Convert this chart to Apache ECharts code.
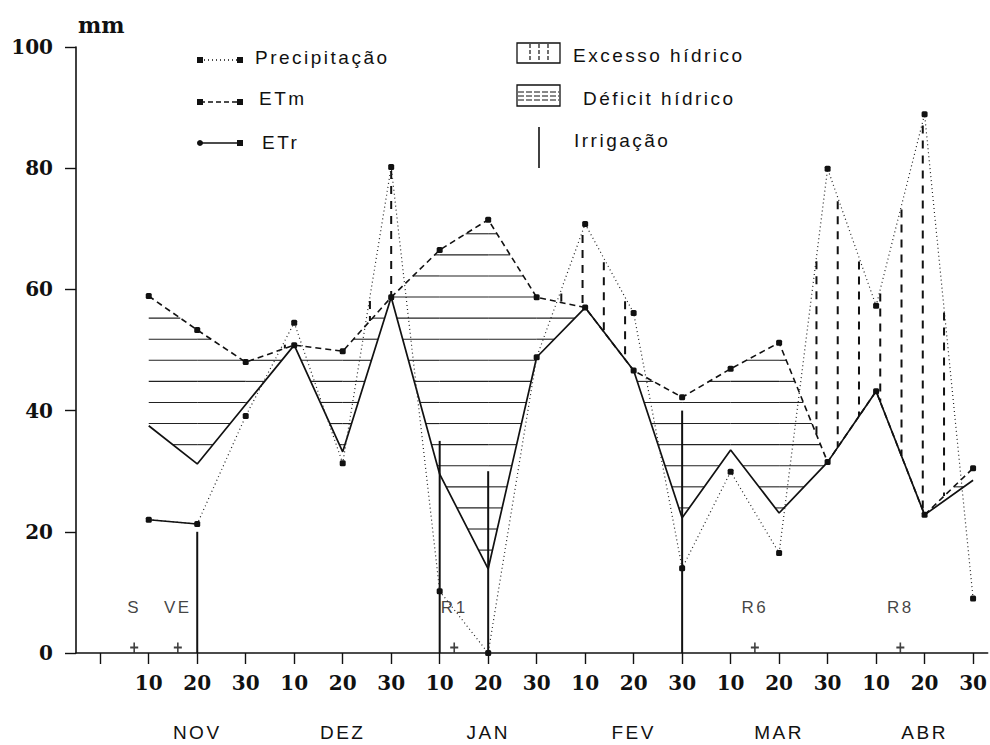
<!DOCTYPE html>
<html>
<head>
<meta charset="utf-8">
<script src="https://cdn.jsdelivr.net/npm/echarts@6/dist/echarts.min.js"></script>
<style>
  html, body { margin: 0; padding: 0; background: #fff; }
  #chart { width: 990px; height: 745px; }
  /* wide tracking for the sans-serif captions */
  #chart text[style*="Liberation Sans"] { letter-spacing: 2.5px; }
</style>
</head>
<body>
<div id="chart"></div>
<script>
// Decêndios: 0 = 30/out, 1..18 = 10/nov .. 30/abr
const decadeTicks = [0, 1, 2, 3, 4, 5, 6, 7, 8, 9, 10, 11, 12, 13, 14, 15, 16, 17, 18];
const decadeLabels = ['', '10', '20', '30', '10', '20', '30', '10', '20', '30',
                      '10', '20', '30', '10', '20', '30', '10', '20', '30'];
const months = ['NOV', 'DEZ', 'JAN', 'FEV', 'MAR', 'ABR'];
const monthPos = [2, 5, 8, 11, 14, 17];
const yTicks = [0, 20, 40, 60, 80, 100];

const days = [1, 2, 3, 4, 5, 6, 7, 8, 9, 10, 11, 12, 13, 14, 15, 16, 17, 18];
const precipitacao = [22.0, 21.3, 39.1, 54.5, 31.3, 80.2, 10.2, 0.0, 48.8, 70.8, 56.1, 14.0, 29.9, 16.5, 79.9, 57.3, 88.9, 9.0];
const etm = [58.9, 53.3, 48.0, 50.8, 49.8, 58.7, 66.5, 71.5, 58.7, 57.0, 46.6, 42.2, 46.9, 51.2, 31.5, 43.2, 22.8, 30.5];
const etr = [37.5, 31.2, 41.0, 50.8, 33.2, 58.7, 29.5, 13.9, 48.8, 57.0, 46.6, 22.3, 33.5, 23.1, 31.5, 43.2, 22.8, 28.5];

const irrigacaoPos = [2, 7, 8, 12];
const irrigacao = [20, 35, 30, 40];

const estadios = ['S', 'VE', 'R1', 'R6', 'R8'];
const estadiosPos = [0.7, 1.6, 7.3, 13.5, 16.5];

// hatching layout (mm levels for déficit, decêndio steps for excesso)
const HATCH_Y0 = 3.06, HATCH_DY = 3.48;
const EXC_X0 = 6, EXC_DX = 0.4385;

const ink = '#111';
const serif = 'DejaVu Serif';
const sans = 'Liberation Sans';

const pts = arr => days.map((d, i) => [d, arr[i]]);

function valueAt(arr, k) {
  const i = Math.max(0, Math.min(Math.floor(k - days[0]), arr.length - 2));
  const t = (k - days[0]) - i;
  return arr[i] + (arr[i + 1] - arr[i]) * t;
}

// horizontal hatch pieces where ETm lies above ETr
function deficitPieces() {
  const out = [];
  for (let m = 0; m < 30; m++) {
    const v = HATCH_Y0 + HATCH_DY * m;
    for (let i = 0; i < days.length - 1; i++) {
      let lo = 0, hi = 1;
      [[etm[i], etm[i + 1], 1], [etr[i], etr[i + 1], -1]].forEach(([a, b, s]) => {
        const c0 = s * (a - v), c1 = s * (b - a);
        if (Math.abs(c1) < 1e-9) { if (c0 < 0) { lo = 1; hi = 0; } }
        else {
          const t0 = -c0 / c1;
          if (c1 > 0) lo = Math.max(lo, t0); else hi = Math.min(hi, t0);
        }
      });
      if (hi - lo > 1e-6) out.push([days[i] + lo, days[i] + hi, v]);
    }
  }
  return out;
}

// vertical hatch pieces where precipitation exceeds ETm
function excessPieces() {
  const out = [];
  for (let n = -30; n < 40; n++) {
    const k = EXC_X0 + EXC_DX * n;
    if (k < days[0] || k > days[days.length - 1]) continue;
    const p = valueAt(precipitacao, k), e = valueAt(etm, k);
    if (p > e) out.push([k, p, e]);
  }
  return out;
}

const chart = echarts.init(document.getElementById('chart'), null, { renderer: 'svg' });

const legendItems = [];
function legendLine(y, dash, leftSymbol) {
  legendItems.push({ type: 'line', shape: { x1: 200, y1: y, x2: 240, y2: y },
    style: { stroke: ink, lineWidth: 1.4, lineDash: dash } });
  if (leftSymbol === 'circle') {
    legendItems.push({ type: 'circle', shape: { cx: 200, cy: y, r: 3 }, style: { fill: ink } });
  } else {
    legendItems.push({ type: 'rect', shape: { x: 197, y: y - 3, width: 6, height: 6 }, style: { fill: ink } });
  }
  legendItems.push({ type: 'rect', shape: { x: 237, y: y - 3, width: 6, height: 6 }, style: { fill: ink } });
}
function legendText(x, y, text) {
  legendItems.push({ type: 'text', x: x, y: y,
    style: { text: text, fontFamily: sans, fontSize: 19, fill: ink, verticalAlign: 'middle', align: 'left' } });
}
legendLine(60, [1, 3], 'rect');
legendText(255, 57, 'Precipitação');
legendLine(102, [5, 3], 'rect');
legendText(259, 98, 'ETm');
legendLine(143, null, 'circle');
legendText(262, 142, 'ETr');

// Excesso hídrico swatch
legendItems.push({ type: 'rect', shape: { x: 517, y: 43, width: 43, height: 20 },
  style: { fill: 'none', stroke: ink, lineWidth: 1.3 } });
[530, 539, 548].forEach(x => legendItems.push({ type: 'line', shape: { x1: x, y1: 44, x2: x, y2: 62 },
  style: { stroke: ink, lineWidth: 1.2, lineDash: [4, 2] } }));
legendText(573, 55, 'Excesso hídrico');
// Déficit hídrico swatch
legendItems.push({ type: 'rect', shape: { x: 517, y: 85, width: 43, height: 21 },
  style: { fill: 'none', stroke: ink, lineWidth: 1.3 } });
[92, 96, 100].forEach(y => legendItems.push({ type: 'line', shape: { x1: 518, y1: y, x2: 559, y2: y },
  style: { stroke: ink, lineWidth: 1, lineDash: [6, 2] } }));
legendText(583, 98, 'Déficit hídrico');
// Irrigação
legendItems.push({ type: 'line', shape: { x1: 539, y1: 127, x2: 539, y2: 168 },
  style: { stroke: ink, lineWidth: 1.6 } });
legendText(574, 140, 'Irrigação');

const option = {
  backgroundColor: '#fff',
  animation: false,
  grid: { left: 76, right: 0, top: 47, bottom: 92, containLabel: false },
  xAxis: [
    {
      type: 'value', min: -0.5, max: 18.3,
      axisLine: { show: true, onZero: false, lineStyle: { color: ink, width: 1.6 } },
      axisTick: { show: true, inside: false, length: 11, customValues: decadeTicks,
                  lineStyle: { color: ink, width: 1.4 } },
      axisLabel: { show: true, customValues: decadeTicks.slice(1), margin: 20,
                   formatter: v => decadeLabels[Math.round(v)],
                   fontFamily: serif, fontWeight: 'bold', fontSize: 20, color: ink },
      splitLine: { show: false }
    },
    {
      type: 'value', min: -0.5, max: 18.3, position: 'bottom',
      axisLine: { show: false, onZero: false }, axisTick: { show: false },
      axisLabel: { show: true, customValues: monthPos, margin: 70,
                   formatter: v => months[monthPos.indexOf(Math.round(v))],
                   fontFamily: sans, fontSize: 19, color: ink },
      splitLine: { show: false }
    }
  ],
  yAxis: {
    type: 'value', min: 0, max: 100, interval: 20,
    name: 'mm', nameLocation: 'end', nameGap: 11,
    nameTextStyle: { fontFamily: serif, fontWeight: 'bold', fontSize: 22, color: ink,
                     align: 'left', verticalAlign: 'bottom', padding: [0, 0, 0, 2] },
    axisLine: { show: true, onZero: false, lineStyle: { color: ink, width: 1.6 } },
    axisTick: { show: true, inside: false, length: 11, lineStyle: { color: ink, width: 1.4 } },
    axisLabel: { margin: 23, fontFamily: serif, fontWeight: 'bold', fontSize: 20, color: ink,
                 formatter: v => (yTicks.indexOf(v) >= 0 ? String(v) : '') },
    splitLine: { show: false }
  },
  graphic: legendItems,
  series: [
    {
      name: 'hatch', type: 'custom', silent: true, clip: false, z: 1,
      data: [[0, 0]],
      renderItem: (params, api) => {
        const children = [];
        deficitPieces().forEach(([x1, x2, v]) => {
          const a = api.coord([x1, v]), b = api.coord([x2, v]);
          children.push({ type: 'line', shape: { x1: a[0], y1: a[1], x2: b[0], y2: b[1] },
            style: { stroke: '#222', lineWidth: 1.1 } });
        });
        excessPieces().forEach(([k, top, bottom]) => {
          const a = api.coord([k, top]), b = api.coord([k, bottom]);
          children.push({ type: 'line', shape: { x1: a[0], y1: a[1] + 4, x2: b[0], y2: b[1] },
            style: { stroke: ink, lineWidth: 2, lineDash: [8, 7] } });
        });
        return { type: 'group', children: children };
      }
    },
    {
      name: 'Irrigação', type: 'bar', barWidth: 2, z: 2, silent: true,
      itemStyle: { color: ink },
      data: irrigacaoPos.map((k, i) => [k, irrigacao[i]])
    },
    {
      name: 'ETr', type: 'line', z: 3, silent: true,
      data: pts(etr), symbol: 'none',
      lineStyle: { color: ink, width: 1.7 }
    },
    {
      name: 'ETm', type: 'line', z: 4, silent: true,
      data: pts(etm), symbol: 'roundRect', symbolSize: 6, showAllSymbol: true,
      itemStyle: { color: ink },
      lineStyle: { color: ink, width: 1.6, type: [6, 4] }
    },
    {
      name: 'Precipitação', type: 'line', z: 4, silent: true,
      data: pts(precipitacao), symbol: 'roundRect', symbolSize: 6, showAllSymbol: true,
      itemStyle: { color: ink },
      lineStyle: { color: '#222', width: 1.2, type: [1, 3] }
    },
    {
      name: 'Precipitação início', type: 'line', z: 4, silent: true,
      data: pts(precipitacao).slice(0, 2), symbol: 'none',
      lineStyle: { color: ink, width: 1.5 }
    },
    {
      name: 'Estádios', type: 'scatter', z: 5, silent: true,
      symbol: 'path://M4,0h2v4h4v2h-4v4h-2v-4h-4v-2h4z', symbolSize: [8, 10],
      itemStyle: { color: ink },
      label: { show: true, position: 'top', distance: 27, formatter: '{b}',
               fontFamily: sans, fontSize: 17, color: ink },
      data: estadiosPos.map((k, i) => ({ name: estadios[i], value: [k, 0.9] }))
    }
  ]
};

chart.setOption(option);
</script>
</body>
</html>
